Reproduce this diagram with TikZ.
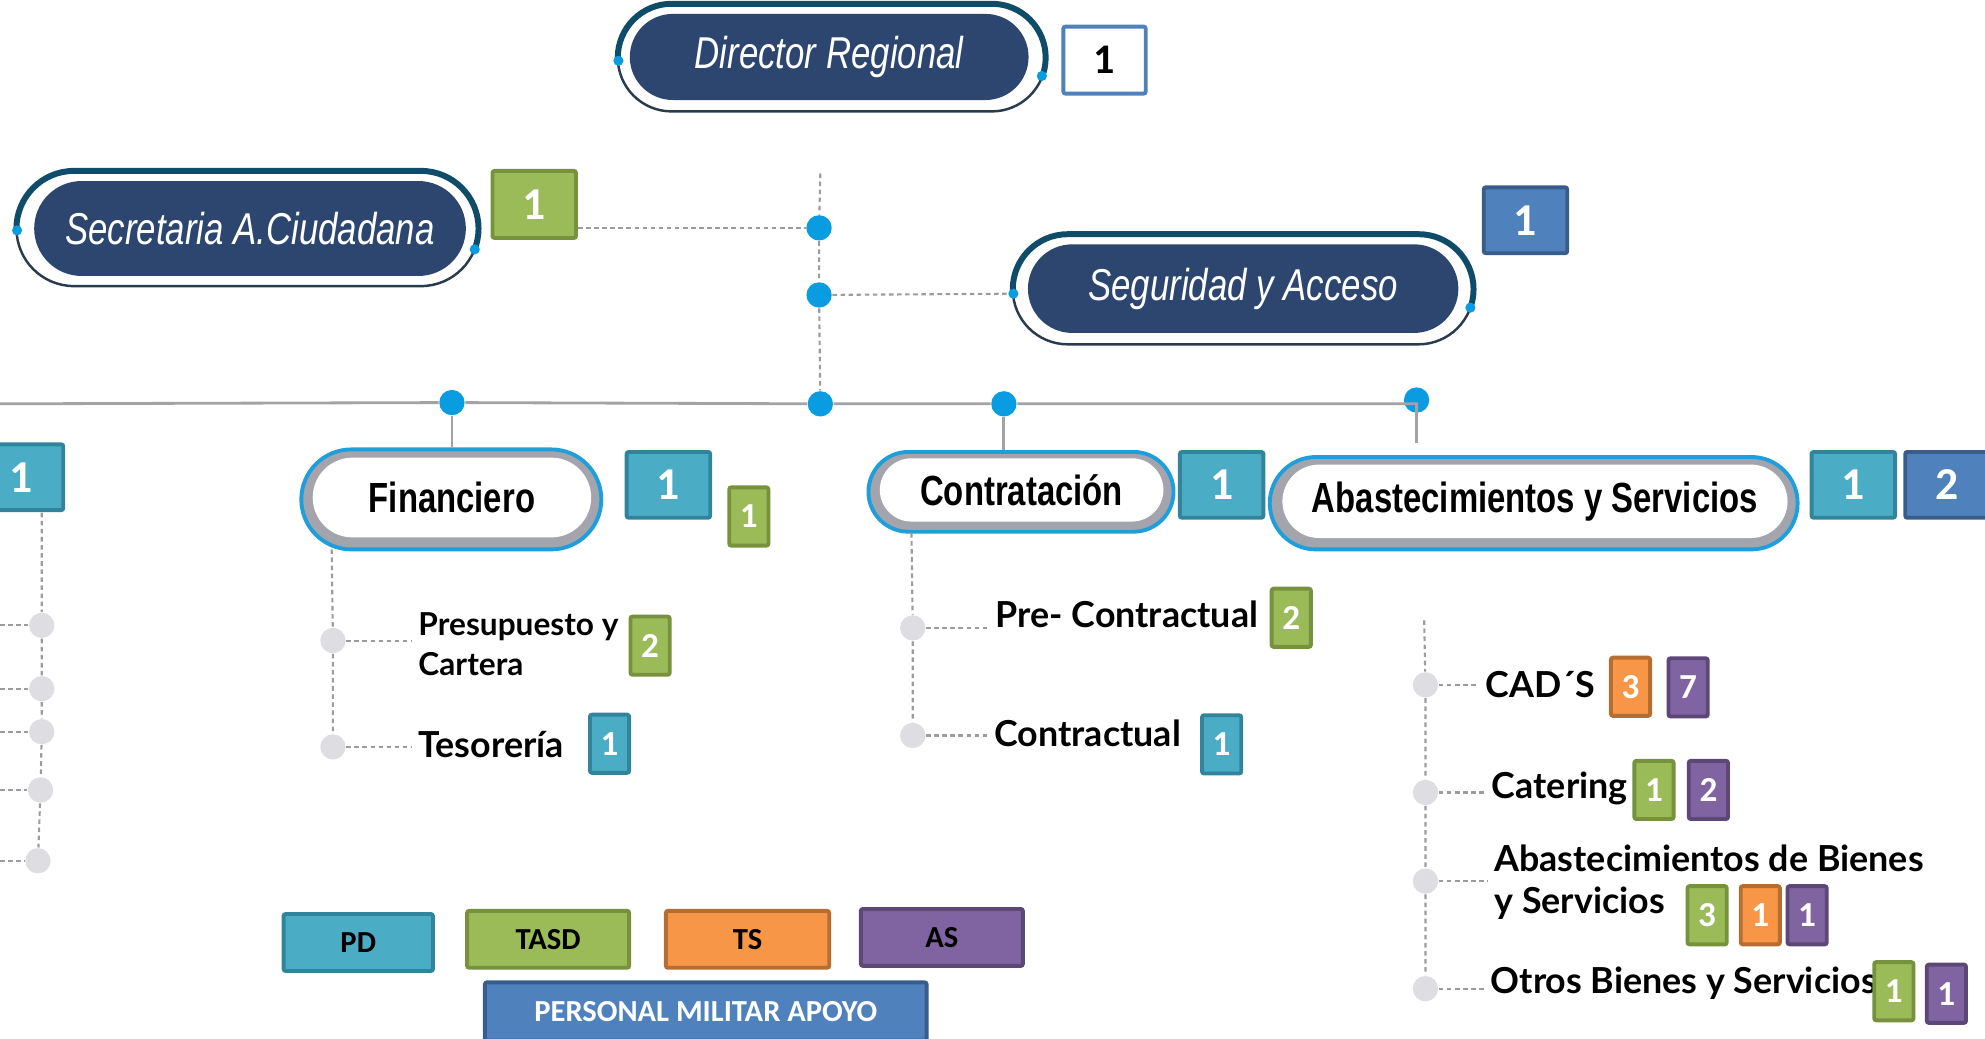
\documentclass[tikz,border=0pt]{standalone}
\usepackage{fontspec}
\usetikzlibrary{shapes.misc,calc}
\newfontfamily\pillfont[FakeStretch=0.78]{Liberation Sans}
\newfontfamily\subfont{Lato}
\newfontfamily\badgefont{Carlito}
\def\pxu{0.012659cm}
\definecolor{navy}{HTML}{2C4670}
\definecolor{ringdark}{HTML}{2A3B50}
\definecolor{ringteal}{HTML}{0F4C69}
\definecolor{dotblue}{HTML}{0A9CE0}
\definecolor{dotgrey}{HTML}{DEDEE2}
\definecolor{lineg}{HTML}{A3A3A3}
\definecolor{dashg}{HTML}{9C9C9C}
\definecolor{pillblue}{HTML}{1E9FDB}
\definecolor{pillgrey}{HTML}{A4A4AC}
\definecolor{pdfill}{HTML}{4BACC6}\definecolor{pdline}{HTML}{31849B}
\definecolor{tafill}{HTML}{9BBB59}\definecolor{taline}{HTML}{76923C}
\definecolor{tsfill}{HTML}{F79646}\definecolor{tsline}{HTML}{B66D31}
\definecolor{asfill}{HTML}{8064A2}\definecolor{asline}{HTML}{5C4776}
\definecolor{pmfill}{HTML}{4F81BD}\definecolor{pmline}{HTML}{385D8A}
\tikzset{
  darkpill/.style={rounded rectangle, fill=navy, text=white, inner sep=0pt,
    font=\pillfont\itshape\fontsize{12.7}{15}\selectfont},
  darkring/.style={rounded rectangle, draw=ringdark, line width=0.7pt, inner sep=0pt},
  ringtop/.style={rounded rectangle, draw=ringteal, line width=1.7pt, inner sep=0pt},
  whiteout/.style={rounded rectangle, fill=pillgrey, draw=pillblue, line width=1.1pt, inner sep=0pt},
  whitepill/.style={rounded rectangle, fill=white, inner sep=0pt,
    font=\pillfont\bfseries\fontsize{12}{14}\selectfont},
  badge/.style={draw, line width=1.1pt, rounded corners=0.6pt, text=white, inner sep=0pt},
  bigb/.style={minimum width=66*\pxu, minimum height=52*\pxu,
    font=\badgefont\bfseries\fontsize{13}{15}\selectfont},
  smallb/.style={minimum width=31*\pxu, minimum height=46*\pxu,
    font=\badgefont\bfseries\fontsize{10}{12}\selectfont},
  legb/.style={minimum height=45*\pxu, text=black,
    font=\badgefont\bfseries\fontsize{8.7}{10}\selectfont},
  cpd/.style={badge, fill=pdfill, draw=pdline},
  cta/.style={badge, fill=tafill, draw=taline},
  cts/.style={badge, fill=tsfill, draw=tsline},
  cas/.style={badge, fill=asfill, draw=asline},
  cpm/.style={badge, fill=pmfill, draw=pmline},
  bdot/.style={circle, fill=dotblue, minimum size=20*\pxu, inner sep=0pt},
  gdot/.style={circle, fill=dotgrey, minimum size=20*\pxu, inner sep=0pt},
  edot/.style={circle, fill=dotblue, minimum size=8*\pxu, inner sep=0pt},
  solidl/.style={draw=lineg, line width=0.8pt},
  dotl/.style={draw=dashg, line width=0.6pt, dash pattern=on 1.3pt off 1pt},
  subtext/.style={anchor=west, inner ysep=0pt, inner xsep=5*\pxu, align=left,
    font=\subfont\bfseries\fontsize{10.2}{12}\selectfont},
}
\begin{document}
\begin{tikzpicture}[x=\pxu,y=-\pxu]
\useasboundingbox (0,0) rectangle (1568,820);
\clip (0,0) rectangle (1568,820);

% ---------- Director Regional
\node[darkring, minimum width=338*\pxu, minimum height=85*\pxu] (dirO) at (657,45.5) {};
\begin{scope}
  \clip (470,48) -- (845,61) -- (845,-20) -- (470,-20) -- cycle;
  \node[ringtop, minimum width=338*\pxu, minimum height=85*\pxu] (dirT) at (657,45.5) {};
\end{scope}
\node[darkpill, minimum width=315*\pxu, minimum height=68*\pxu] (dir) at (655,45) {Director Regional};
\node[edot] (dirL) at (488.5,48) {};
\node[edot] (dirR) at (823,60) {};
\node[badge, fill=white, draw=pmfill, text=black, minimum width=65*\pxu, minimum height=53*\pxu,
  font=\badgefont\bfseries\fontsize{12}{14}\selectfont] (dirB) at (872.5,47.5) {1};

% ---------- Secretaria A.Ciudadana
\node[darkring, minimum width=365*\pxu, minimum height=91*\pxu] (secO) at (195.5,180.5) {};
\begin{scope}
  \clip (-10,182) -- (395,198) -- (395,100) -- (-10,100) -- cycle;
  \node[ringtop, minimum width=365*\pxu, minimum height=91*\pxu] (secT) at (195.5,180.5) {};
\end{scope}
\node[darkpill, minimum width=341*\pxu, minimum height=75*\pxu] (sec) at (197.5,180.5) {Secretaria A.Ciudadana};
\node[edot] (secL) at (13.5,182) {};
\node[edot] (secR) at (375,197) {};
\node[cta, bigb, minimum height=53*\pxu] (secB) at (422,161.5) {1};

% ---------- Seguridad y Acceso
\node[darkring, minimum width=364*\pxu, minimum height=87*\pxu] (segO) at (982,228.5) {};
\begin{scope}
  \clip (780,232) -- (1185,244) -- (1185,150) -- (780,150) -- cycle;
  \node[ringtop, minimum width=364*\pxu, minimum height=87*\pxu] (segT) at (982,228.5) {};
\end{scope}
\node[darkpill, minimum width=340*\pxu, minimum height=70*\pxu] (seg) at (982,228) {Seguridad y Acceso};
\node[edot] (segL) at (800.5,232) {};
\node[edot] (segR) at (1161.5,243) {};
\node[cpm, bigb] (segB) at (1205,174) {1};

% ---------- central trunk
\coordinate (vtop) at (648,137);
\node[bdot] (c1) at (647,180) {};
\node[bdot] (c2) at (647,233) {};
\node[bdot] (c3) at (648,319) {};
\draw[dotl] (vtop) -- (c1) -- (c2) -- (c3);
\draw[dotl] (c1 -| secB.east) -- (c1);
\draw[dotl] (c2) -- (segL);

% ---------- horizontal bar
\coordinate (hl) at (0,319);
\node[bdot] (h1) at (357,318) {};
\node[bdot] (h3) at (793,319) {};
\node[bdot] (h4) at (1119,316) {};
\coordinate (h4e) at (1119,350);
\draw[solidl] (hl) -- (h1) -- (c3) -- (h3) -- (h4 |- c3) -- (h4);

% ---------- Financiero
\node[whiteout, minimum width=237*\pxu, minimum height=79*\pxu] (finO) at (356.5,394.5) {};
\node[whitepill, minimum width=220*\pxu, minimum height=63*\pxu] (fin) at (357,393) {Financiero};
\node[cpd, bigb] (fb1) at (528,383) {1};
\node[cta, smallb] (fb2) at (591.5,408) {1};
\draw[solidl] (h1) -- (h1 |- finO.north);

\coordinate (ftop) at (262,434);
\node[gdot] (f1) at (263,506) {};
\node[gdot] (f2) at (263,590) {};
\node[subtext, font=\subfont\bfseries\fontsize{9.0}{11.2}\selectfont] (ft1) at (325,509) {Presupuesto y\\Cartera};
\node[subtext] (ft2) at (325,588) {Tesorería};
\node[cta, smallb] (fb3) at (513.5,510) {2};
\node[cpd, smallb] (fb4) at (481.5,587.5) {1};
\draw[dotl] (ftop) -- (f1) -- (f2);
\draw[dotl] (f1) -- (f1 -| ft1.west);
\draw[dotl] (f2) -- (f2 -| ft2.west);

% ---------- Contratacion
\node[whiteout, minimum width=241*\pxu, minimum height=63*\pxu] (conO) at (806.5,388.5) {};
\node[whitepill, minimum width=224*\pxu, minimum height=50*\pxu] (con) at (807,387) {Contratación};
\node[cpd, bigb] (cb1) at (965,383) {1};
\draw[solidl] (h3) -- (h3 |- conO.north);

\coordinate (ktop) at (720,421);
\node[gdot] (k1) at (721,496) {};
\node[gdot] (k2) at (721,581) {};
\node[subtext] (kt1) at (781,485) {Pre- Contractual};
\node[subtext] (kt2) at (780,579) {Contractual};
\node[cta, smallb] (cb2) at (1020,488) {2};
\node[cpd, smallb] (cb3) at (965,588) {1};
\draw[dotl] (ktop) -- (k1) -- (k2);
\draw[dotl] (k1) -- (k1 -| kt1.west);
\draw[dotl] (k2) -- (k2 -| kt2.west);

% ---------- Abastecimientos y Servicios
\node[whiteout, minimum width=417*\pxu, minimum height=73*\pxu] (abO) at (1211.5,397.5) {};
\node[whitepill, minimum width=399*\pxu, minimum height=58*\pxu] (ab) at (1212.5,396) {Abastecimientos y Servicios};
\node[cpd, bigb] (ab1) at (1464,383) {1};
\node[cpm, bigb] (ab2) at (1538,383) {2};
\draw[solidl] (h4) -- (h4e);

\coordinate (atop) at (1125,490);
\node[gdot] (a1) at (1126,541) {};
\node[gdot] (a2) at (1126,626) {};
\node[gdot] (a3) at (1126,696) {};
\node[gdot] (a4) at (1126,781) {};
\node[subtext] (at1) at (1168,541) {CAD´S};
\node[subtext] (at2) at (1173,623) {Catering};
\node[subtext] (at3) at (1175,697) {Abastecimientos de Bienes\\y Servicios};
\node[subtext] (at4) at (1172,777) {Otros Bienes y Servicios};
\draw[dotl] (atop) -- (a1) -- (a2) -- (a3) -- (a4);
\draw[dotl] (a1) -- (a1 -| at1.west);
\draw[dotl] (a2) -- (a2 -| at2.west);
\draw[dotl] (a3) -- (a3 -| at3.west);
\draw[dotl] (a4) -- (a4 -| at4.west);
\node[cts, smallb] (ab3) at (1288,542.5) {3};
\node[cas, smallb] (ab4) at (1333.5,543) {7};
\node[cta, smallb] (ab5) at (1306.5,624) {1};
\node[cas, smallb] (ab6) at (1349.5,624) {2};
\node[cta, smallb] (ab7) at (1348.5,723) {3};
\node[cts, smallb] (ab8) at (1390.5,723) {1};
\node[cas, smallb] (ab9) at (1427.5,723) {1};
\node[cta, smallb] (ab10) at (1496,783) {1};
\node[cas, smallb] (ab11) at (1537.5,785) {1};

% ---------- left partial branch
\node[cpd, bigb] (lb) at (17,377) {1};
\coordinate (ltop) at (33,405);
\node[gdot] (l1) at (33,494) {};
\node[gdot] (l2) at (33,544) {};
\node[gdot] (l3) at (33,578) {};
\node[gdot] (l4) at (32,624) {};
\node[gdot] (l5) at (30,680) {};
\coordinate (le1) at (0,494);
\coordinate (le2) at (0,544);
\coordinate (le3) at (0,578);
\coordinate (le4) at (0,624);
\coordinate (le5) at (0,680);
\draw[dotl] (ltop) -- (l1) -- (l2) -- (l3) -- (l4) -- (l5);
\draw[dotl] (le1) -- (l1);
\draw[dotl] (le2) -- (l2);
\draw[dotl] (le3) -- (l3);
\draw[dotl] (le4) -- (l4);
\draw[dotl] (le5) -- (l5);

% ---------- legend
\node[cpd, legb, minimum width=118*\pxu] (lgpd) at (283,744.5) {PD};
\node[cta, legb, minimum width=128*\pxu] (lgta) at (433,742) {TASD};
\node[cts, legb, minimum width=129*\pxu] (lgts) at (590.5,742) {TS};
\node[cas, legb, minimum width=128*\pxu] (lgas) at (744,740.5) {AS};
\node[cpm, legb, text=white, minimum width=349*\pxu, minimum height=46*\pxu] (lgpm) at (557.5,799) {PERSONAL MILITAR APOYO};
\end{tikzpicture}
\end{document}
